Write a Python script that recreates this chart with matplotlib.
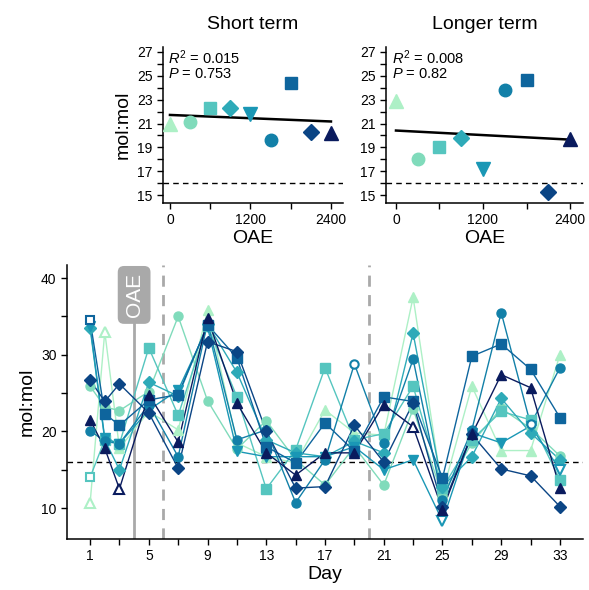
"""
Ratio (mol:mol) vs OAE dose, short and longer term, plus the time series by day.
"""

import numpy as np
import matplotlib
matplotlib.use("Agg")
import matplotlib.pyplot as plt

plt.rcParams["font.family"] = ["Liberation Sans", "DejaVu Sans"]
plt.rcParams["mathtext.fontset"] = "custom"
plt.rcParams["mathtext.it"] = "Liberation Sans:italic"
plt.rcParams["mathtext.rm"] = "Liberation Sans"

# treatments (OAE dose) with their marker and colour
oae = [0, 300, 600, 900, 1200, 1500, 1800, 2100, 2400]
markers = ["^", "o", "s", "D", "v", "o", "s", "D", "^"]
colors = ["#adf0c6", "#80dbbb", "#55c5bf", "#2eaab8", "#1a97b5",
          "#1280a8", "#0e659d", "#0b4585", "#0a1b5e"]

# top panels: mean ratio per treatment
short_term = [21.0, 21.1, 22.3, 22.3, 21.8, 19.6, 24.4, 20.3, 20.2]
longer_term = [22.9, 18.0, 19.0, 19.8, 17.2, 23.8, 24.6, 15.3, 19.7]
short_stats = ["$R^2$ = 0.015", "$P$ = 0.753"]
longer_stats = ["$R^2$ = 0.008", "$P$ = 0.82"]

# bottom panel: time series
days = [1, 2, 3, 5, 7, 9, 11, 13, 15, 17, 19, 21, 23, 25, 27, 29, 31, 33]
series = {
    0:    [10.6, 33.0, 17.8, 22.6, 20.2, 35.8, 18.5, 16.7, 15.9, 22.8, 19.8, 19.5, 37.5, 12.0, 25.9, 17.5, 17.5, 30.0],
    300:  [25.9, 23.2, 22.7, 25.2, 35.0, 24.0, 17.7, 21.4, 16.3, 13.0, 18.0, 13.0, 22.9, 11.7, 18.5, 23.0, 20.4, 16.8],
    600:  [14.0, 18.9, 18.4, 30.9, 22.1, 33.8, 24.5, 12.5, 17.6, 28.3, 18.9, 19.7, 25.9, 12.6, 18.9, 22.6, 21.5, 13.7],
    900:  [33.5, 18.9, 15.0, 26.4, 24.6, 34.0, 27.7, 18.9, 17.2, 16.7, 18.7, 17.2, 32.8, 12.8, 16.7, 24.3, 19.8, 16.3],
    1200: [33.8, 19.1, 18.4, 22.8, 25.4, 33.6, 17.4, 16.7, 16.7, 16.7, 18.0, 15.0, 16.3, 8.3, 19.8, 18.5, 20.7, 15.0],
    1500: [20.1, 18.7, 18.4, 23.5, 16.7, 34.2, 18.9, 20.2, 10.7, 16.3, 28.8, 18.5, 29.4, 11.0, 20.2, 35.5, 20.9, 28.3],
    1800: [34.5, 22.3, 20.8, 24.1, 24.8, 33.9, 29.6, 18.0, 15.9, 21.1, 17.4, 24.5, 23.9, 13.9, 29.8, 31.4, 28.1, 21.8],
    2100: [26.7, 23.9, 26.2, 22.4, 15.2, 31.7, 30.4, 20.0, 12.6, 12.8, 20.8, 16.0, 23.7, 10.2, 19.6, 15.1, 14.2, 10.2],
    2400: [21.5, 17.8, 12.5, 24.8, 18.6, 34.8, 23.7, 17.2, 14.3, 17.2, 17.2, 23.5, 20.6, 9.8, 19.6, 27.4, 25.7, 12.6],
}
# points drawn hollow (treatment -> days)
hollow = {0: [1, 2], 600: [1], 1200: [25, 33], 1500: [19, 31], 1800: [1], 2400: [3, 23]}

threshold = 16
oae_day = 4
phase_days = [6, 20]

fig = plt.figure(figsize=(5.89, 5.90), dpi=100)


def style_axes(ax):
    for side in ["top", "right"]:
        ax.spines[side].set_visible(False)
    for side in ["left", "bottom"]:
        ax.spines[side].set_linewidth(1.1)
    ax.tick_params(direction="out", length=4, width=1, labelsize=10, colors="black")


def dose_panel(rect, values, stats, title, xlim, ylabel):
    ax = fig.add_axes(rect)
    style_axes(ax)
    ax.axhline(threshold, color="black", lw=1, ls=(0, (4, 3)), zorder=1)
    slope, icpt = np.polyfit(oae, values, 1)
    xs = np.array([oae[0], oae[-1]])
    ax.plot(xs, icpt + slope * xs, color="black", lw=1.8, zorder=2)
    for x, y, m, c in zip(oae, values, markers, colors):
        ms = 10 if m in "^v" else (8 if m == "D" else 9)
        ax.plot(x, y, marker=m, color=c, ms=ms, ls="none", zorder=3)
    ax.set_xlim(*xlim)
    ax.set_ylim(14.35, 27.4)
    ax.set_xticks([0, 600, 1200, 1800, 2400])
    ax.set_xticklabels(["0", "", "1200", "", "2400"])
    ax.set_yticks(range(15, 28))
    ax.set_yticklabels([str(v) if v % 2 else "" for v in range(15, 28)])
    ax.set_xlabel("OAE", fontsize=14, labelpad=2)
    if ylabel:
        ax.set_ylabel("mol:mol", fontsize=14, labelpad=4)
    ax.set_title(title, fontsize=14, pad=13)
    ax.text(0.03, 0.99, stats[0], transform=ax.transAxes, fontsize=10.5, va="top")
    ax.text(0.03, 0.87, stats[1], transform=ax.transAxes, fontsize=10.5, va="top")
    return ax


dose_panel([0.2767, 0.6559, 0.3056, 0.2644], short_term, short_stats,
           "Short term", (-104, 2579), True)
dose_panel([0.6553, 0.6559, 0.3345, 0.2644], longer_term, longer_stats,
           "Longer term", (-138, 2579), False)

# time series
ax = fig.add_axes([0.1138, 0.0864, 0.876, 0.4644])
style_axes(ax)
ax.axhline(threshold, color="black", lw=1, ls=(0, (4, 3)), zorder=1)
for d in phase_days:
    ax.axvline(d, color="#a9a9a9", lw=2, ls=(0, (4, 3)), zorder=1)
ax.plot([oae_day, oae_day], [0, 35.5], color="#a9a9a9", lw=2, zorder=1)
ax.text(oae_day, 37.8, "OAE", rotation=90, ha="center", va="center", color="white",
        fontsize=15, zorder=5,
        bbox=dict(boxstyle="round,pad=0.33,rounding_size=0.3", fc="#a9a9a9", ec="none"))

d_arr = np.array(days)
for dose, m, c in zip(oae, markers, colors):
    v = np.array(series[dose])
    h = np.isin(d_arr, hollow.get(dose, []))
    ms = 7 if m in "^v" else (6 if m == "D" else 6.5)
    ax.plot(d_arr, v, color=c, lw=1, zorder=2)
    ax.plot(d_arr[~h], v[~h], marker=m, color=c, ms=ms, ls="none", zorder=3)
    ax.plot(d_arr[h], v[h], marker=m, mfc="white", mec=c, mew=1.5, ms=ms - 0.5,
            ls="none", zorder=3)

ax.set_xlim(-0.57, 34.57)
ax.set_ylim(5.96, 41.7)
ax.set_xticks(range(1, 34, 2))
ax.set_xticklabels([str(d) if (d - 1) % 4 == 0 else "" for d in range(1, 34, 2)])
ax.set_yticks(range(10, 41, 5))
ax.set_yticklabels([str(v) if v % 10 == 0 else "" for v in range(10, 41, 5)])
ax.set_xlabel("Day", fontsize=14, labelpad=2)
ax.set_ylabel("mol:mol", fontsize=14, labelpad=4)

fig.savefig("out.png", dpi=100)
